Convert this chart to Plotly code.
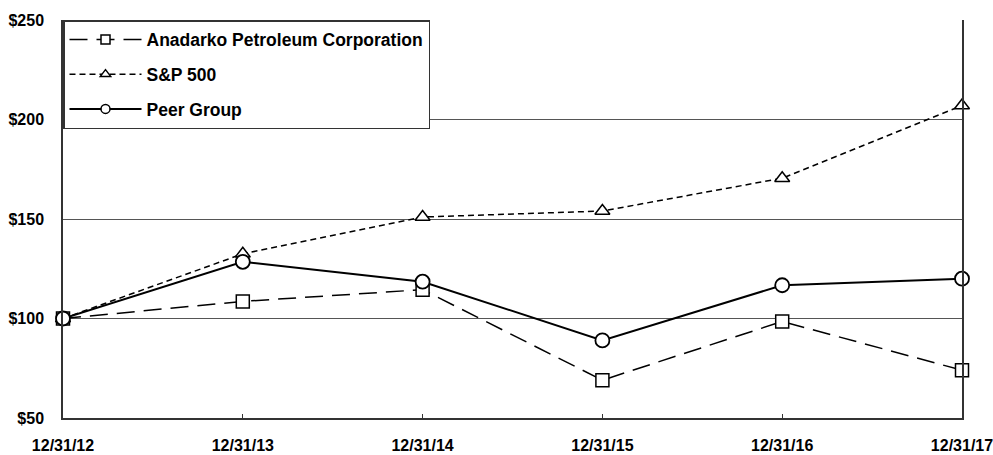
import plotly.graph_objects as go

dates = ["12/31/12", "12/31/13", "12/31/14", "12/31/15", "12/31/16", "12/31/17"]
anadarko = [100, 108.6, 114.5, 69, 98.5, 74]
sp500 = [100, 132.5, 151, 154, 170.5, 207]
peer = [100, 128.5, 118.5, 89, 116.7, 120]
y_ticks = [50, 100, 150, 200, 250]
y_labels = ["$50", "$100", "$150", "$200", "$250"]

x = list(range(len(dates)))
tick_font = dict(family="Liberation Sans, Arial", size=16, color="black", weight="bold")
legend_font = dict(family="Liberation Sans, Arial", size=17.5, color="black", weight="bold")

series = [
    ("Anadarko Petroleum Corporation", anadarko, dict(color="black", width=1.5, dash="18px,9px"),
     "square", 13, 1.5),
    ("S&P 500", sp500, dict(color="black", width=1.5, dash="6px,4px"), "triangle-up", 13, 1.5),
    ("Peer Group", peer, dict(color="black", width=2), "circle", 14, 1.8),
]

fig = go.Figure()
for i, (name, vals, line, sym, size, mlw) in enumerate(series):
    fig.add_trace(go.Scatter(
        x=x, y=vals, name=name, mode="lines+markers", showlegend=False,
        line=line,
        marker=dict(symbol=sym, size=size, color="white", line=dict(color="black", width=mlw)),
        cliponaxis=False))
    # legend entry with smaller marker, like the reference
    fig.add_trace(go.Scatter(
        x=[None], y=[None], name=name, mode="lines+markers", legendgroup=f"g{i}",
        line=line,
        marker=dict(symbol=sym, size=9, color="white", line=dict(color="black", width=1.5))))

fig.update_layout(
    width=993, height=455,
    margin=dict(l=63, r=31, t=20, b=37, autoexpand=False),
    paper_bgcolor="white", plot_bgcolor="white",
    showlegend=True,
    legend=dict(x=0, y=1, xanchor="left", yanchor="top", bgcolor="white",
                bordercolor="#333", borderwidth=1.5, font=legend_font,
                itemwidth=72, tracegroupgap=9),
    xaxis=dict(range=[0, 5], tickmode="array", tickvals=x, ticktext=dates,
               tickfont=tick_font, showgrid=False, zeroline=False, automargin=False,
               ticklabeloverflow="allow",
               showline=True, linecolor="#333", linewidth=1.5,
               ticks="inside", ticklen=4, tickcolor="#333", ticklabelstandoff=12),
    yaxis=dict(range=[50, 250], tickmode="array", tickvals=y_ticks, ticktext=y_labels,
               tickfont=tick_font, showgrid=True, gridcolor="#555", gridwidth=1,
               zeroline=False, showline=True, linecolor="#333", linewidth=1.5,
               automargin=False, ticklabeloverflow="allow",
               mirror=True, ticks="", ticklabelstandoff=14),
)

fig.write_html("out.html", config={"displayModeBar": False},
               post_script="document.body.style.margin='0';document.body.style.overflow='hidden';")
